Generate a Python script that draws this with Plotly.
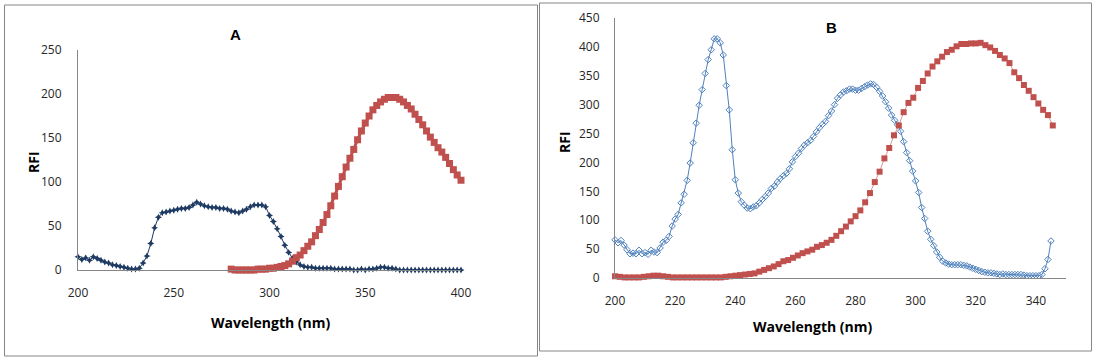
import plotly.graph_objects as go

W, H = 1096, 360

# ---------------- Panel A data ----------------
a_blue_x = list(range(200, 401, 2))
a_blue_y = [15, 12, 14, 11, 15, 13, 11, 9, 8, 6,
            5, 4, 3, 2, 1, 1, 2, 8, 16, 30,
            48, 60, 65, 66, 67, 68, 69, 70, 70, 71,
            74, 77, 75, 73, 72, 71, 71, 70, 70, 69,
            67, 66, 65, 67, 69, 72, 74, 74, 74, 72,
            62, 55, 47, 38, 28, 20, 13, 9, 6, 4,
            3, 3, 2, 2, 2, 2, 2, 1, 1, 1,
            1, 1, 0, 0, 1, 0, 1, 1, 2, 3,
            3, 2, 2, 1, 0, 0, 0, 0, 0, 0,
            0, 0, 0, 0, 0, 0, 0, 0, 0, 0,
            0]
a_red_x = list(range(280, 401, 2))
a_red_y = [1, 0, 0, 0, 0, 0, 0, 1, 1, 1,
           2, 2, 3, 4, 5, 7, 10, 14, 17, 22,
           27, 32, 39, 46, 54, 63, 73, 84, 95, 106,
           117, 127, 137, 148, 158, 167, 175, 182, 187, 191,
           194, 196, 196, 196, 194, 191, 187, 183, 177, 171,
           165, 158, 151, 145, 139, 134, 128, 121, 114, 108,
           102]

# ---------------- Panel B data ----------------
b_blue_x = list(range(200, 346))
b_blue_y = [66, 61, 65, 57, 49, 42, 43, 42, 48, 42,
            44, 41, 48, 45, 44, 52, 62, 65, 72, 90,
            102, 110, 130, 145, 169, 199, 234, 268, 299, 326,
            354, 378, 395, 414, 414, 407, 386, 333, 291, 222,
            170, 147, 132, 126, 121, 120, 123, 125, 130, 136,
            141, 147, 155, 159, 166, 172, 177, 181, 189, 201,
            210, 216, 224, 230, 234, 238, 245, 253, 260, 266,
            271, 281, 289, 300, 311, 317, 322, 324, 327, 327,
            325, 325, 328, 331, 334, 336, 335, 330, 323, 315,
            305, 294, 282, 273, 265, 254, 236, 217, 203, 185,
            168, 148, 122, 103, 81, 67, 56, 45, 36, 29,
            26, 24, 23, 23, 23, 23, 22, 21, 19, 17,
            15, 13, 11, 10, 9, 9, 8, 7, 6, 7,
            6, 6, 6, 6, 6, 6, 5, 4, 4, 4,
            4, 4, 6, 16, 32, 64]
b_red_x = [round(200 + 1.6 * k, 1) for k in range(92)]
b_red_y = [3, 2, 1, 1, 1, 1, 2, 3, 4, 4,
           3, 2, 1, 1, 1, 1, 1, 1, 1, 1,
           1, 1, 1, 2, 3, 4, 5, 6, 7, 8,
           11, 14, 17, 20, 24, 29, 31, 35, 39, 43,
           46, 49, 54, 57, 61, 66, 73, 81, 89, 98,
           107, 117, 131, 147, 166, 184, 207, 225, 247, 264,
           287, 303, 312, 329, 341, 354, 366, 375, 383, 391,
           395, 401, 405, 405, 406, 406, 407, 403, 399, 393,
           386, 380, 372, 356, 346, 334, 324, 313, 302, 291,
           282, 264]

a_xticks = [200, 250, 300, 350, 400]
a_yticks = [0, 50, 100, 150, 200, 250]
b_xticks = [200, 220, 240, 260, 280, 300, 320, 340]
b_yticks = [0, 50, 100, 150, 200, 250, 300, 350, 400, 450]

BLUE_DARK = "#1F3B63"
BLUE = "#4F81BD"
RED = "#C0504D"
AXIS = "#868686"
TXT = "#262626"
FONT = "Open Sans"


def px(x):
    return x / W


def py(y):
    return 1 - y / H


fig = go.Figure()

fig.add_trace(go.Scatter(x=a_blue_x, y=a_blue_y, mode="lines+markers", xaxis="x", yaxis="y",
                         line=dict(color=BLUE_DARK, width=1),
                         marker=dict(symbol="star-diamond", size=5, color=BLUE_DARK),
                         cliponaxis=False, showlegend=False))
fig.add_trace(go.Scatter(x=a_red_x, y=a_red_y, mode="lines+markers", xaxis="x", yaxis="y",
                         line=dict(color=RED, width=3),
                         marker=dict(symbol="square", size=7, color=RED),
                         cliponaxis=False, showlegend=False))
fig.add_trace(go.Scatter(x=b_blue_x, y=b_blue_y, mode="lines+markers", xaxis="x2", yaxis="y2",
                         line=dict(color=BLUE, width=1),
                         marker=dict(symbol="diamond-open", size=5, color=BLUE, line=dict(width=1)),
                         cliponaxis=False, showlegend=False))
fig.add_trace(go.Scatter(x=b_red_x, y=b_red_y, mode="lines+markers", xaxis="x2", yaxis="y2",
                         line=dict(color="#D99694", width=1),
                         marker=dict(symbol="square", size=6, color=RED),
                         cliponaxis=False, showlegend=False))

axis_common = dict(showline=True, linecolor=AXIS, linewidth=1, showgrid=False, zeroline=False,
                   ticks="", automargin=False,
                   tickfont=dict(family=FONT, size=12, color=TXT), fixedrange=True)

ann_common = dict(xref="paper", yref="paper", showarrow=False, xanchor="center", yanchor="middle")

fig.update_layout(
    template="none",
    width=W, height=H,
    margin=dict(l=0, r=0, t=0, b=0, pad=0),
    paper_bgcolor="white", plot_bgcolor="white",
    xaxis=dict(domain=[px(78), px(461)], range=[200, 400], anchor="y",
               tickvals=a_xticks, ticklabelstandoff=12, **axis_common),
    yaxis=dict(domain=[py(270), py(50)], range=[0, 250], anchor="x",
               tickvals=a_yticks, ticklabelstandoff=13, **axis_common),
    xaxis2=dict(domain=[px(615), px(1066)], range=[200, 350], anchor="y2",
                tickvals=b_xticks, ticklabelstandoff=12, **axis_common),
    yaxis2=dict(domain=[py(278), py(18)], range=[0, 450], anchor="x2",
                tickvals=b_yticks, ticklabelstandoff=12, **axis_common),
    shapes=[
        dict(type="rect", xref="paper", yref="paper", x0=px(4.5), x1=px(537.5), y0=py(356), y1=py(5),
             line=dict(color=AXIS, width=1)),
        dict(type="rect", xref="paper", yref="paper", x0=px(539.5), x1=px(1091.5), y0=py(351), y1=py(3),
             line=dict(color=AXIS, width=1)),
    ],
    annotations=[
        dict(text="<b>A</b>", x=px(235), y=py(34),
             font=dict(family="Liberation Sans", size=15, color="black"), **ann_common),
        dict(text="<b>B</b>", x=px(831), y=py(28),
             font=dict(family="Liberation Sans", size=15, color="black"), **ann_common),
        dict(text="<b>RFI</b>", x=px(34), y=py(162), textangle=-90,
             font=dict(family=FONT, size=14, color="black"), **ann_common),
        dict(text="<b>RFI</b>", x=px(565), y=py(142), textangle=-90,
             font=dict(family=FONT, size=14, color="black"), **ann_common),
        dict(text="<b>Wavelength (nm)</b>", x=px(270), y=py(322),
             font=dict(family=FONT, size=14, color="black"), **ann_common),
        dict(text="<b>Wavelength (nm)</b>", x=px(812), y=py(326),
             font=dict(family=FONT, size=14, color="black"), **ann_common),
    ],
)

fig.write_html("out.html", config={"displayModeBar": False, "staticPlot": True},
               post_script="document.body.style.margin='0';document.body.style.overflow='hidden';")
